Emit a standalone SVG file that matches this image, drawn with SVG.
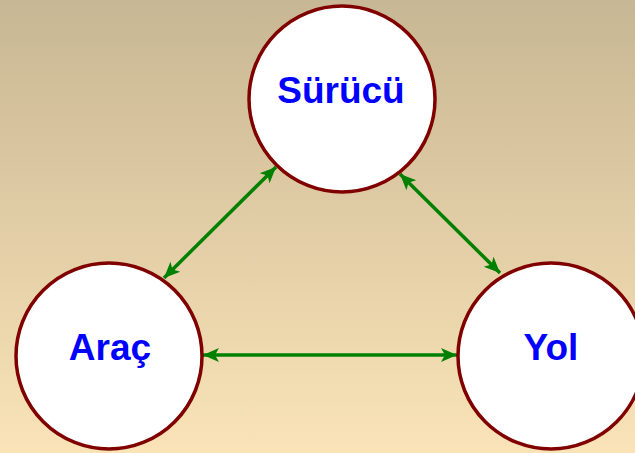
<svg xmlns="http://www.w3.org/2000/svg" width="635" height="453" viewBox="0 0 635 453">
  <defs>
    <linearGradient id="bg" x1="0" y1="0" x2="0" y2="1">
      <stop offset="0" stop-color="#c8b794"/>
      <stop offset="1" stop-color="#fae3b7"/>
    </linearGradient>
    <marker id="head" viewBox="-17 -8 18 16" refX="0" refY="0" markerWidth="18" markerHeight="16" markerUnits="userSpaceOnUse" orient="auto-start-reverse">
      <path d="M0,0 L-16,-7 L-12,0 L-16,7 Z" fill="#008000"/>
    </marker>
    <style>
      .node { fill: #ffffff; stroke: #800000; stroke-width: 3.5; }
      .label { font-family: "Liberation Sans", Arial, sans-serif; font-weight: bold; font-size: 37px; fill: #0000ff; text-anchor: middle; }
      .link { stroke: #008000; stroke-width: 3.5; fill: none; marker-start: url(#head); marker-end: url(#head); }
    </style>
  </defs>

  <rect x="0" y="0" width="635" height="453" fill="url(#bg)"/>

  <g id="connectors">
    <line class="link" x1="276" y1="167" x2="164" y2="278"/>
    <line class="link" x1="400" y1="174" x2="500" y2="273"/>
    <line class="link" x1="203" y1="355" x2="457" y2="355"/>
  </g>

  <g id="surucu">
    <circle class="node" cx="342" cy="99" r="93"/>
    <text class="label" x="341" y="103">Sürücü</text>
  </g>

  <g id="arac">
    <circle class="node" cx="109" cy="356" r="93"/>
    <text class="label" x="110" y="360">Araç</text>
  </g>

  <g id="yol">
    <circle class="node" cx="551" cy="356" r="93"/>
    <text class="label" x="551" y="360">Yol</text>
  </g>
</svg>
